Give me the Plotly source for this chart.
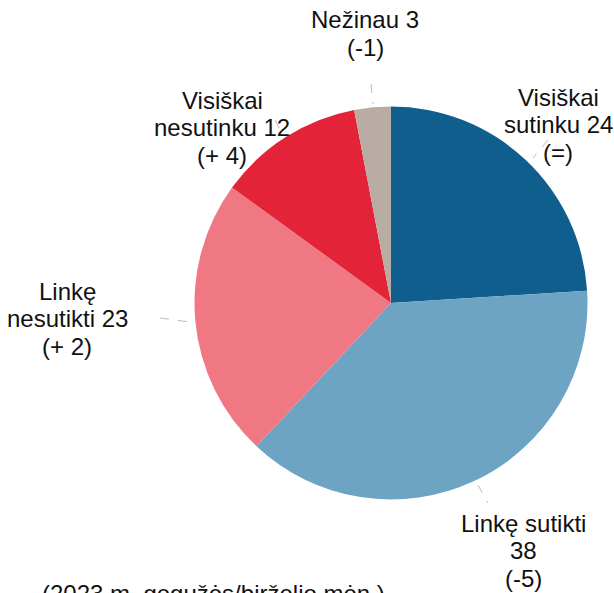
import plotly.graph_objects as go

categories = ["Visiškai sutinku", "Linkę sutikti", "Linkę nesutikti", "Visiškai nesutinku", "Nežinau"]
values = [24, 38, 23, 12, 3]
changes = ["(=)", "(-5)", "(+ 2)", "(+ 4)", "(-1)"]
colors = ["#0F5E8E", "#6DA3C3", "#EF7882", "#E32337", "#B8ACA5"]

W, H = 614, 593

def px(x):
    return x / W

def py(y):
    return 1 - y / H

cx, cy, r = 391, 303, 196.5

fig = go.Figure(go.Pie(
    labels=categories, values=values, sort=False, direction="clockwise", rotation=0,
    marker=dict(colors=colors, line=dict(width=0)),
    textinfo="none", hoverinfo="label+value", showlegend=False,
    domain=dict(x=[px(cx - r), px(cx + r)], y=[py(cy + r), py(cy - r)]),
))

label_lines = [
    ["Visiškai", f"sutinku {values[0]}", changes[0]],
    ["Linkę sutikti", f"{values[1]}", changes[1]],
    ["Linkę", f"nesutikti {values[2]}", changes[2]],
    ["Visiškai", f"nesutinku {values[3]}", changes[3]],
    [f"Nežinau {values[4]}", changes[4]],
]
# (center x, center y of first line)
label_pos = [(558, 97), (523, 523), (67, 291), (222, 100), (365, 20)]
LINE = 27.7

FONT = dict(family="Liberation Sans, Arial", size=24, color="#111111")

for lines, (x, y) in zip(label_lines, label_pos):
    for i, t in enumerate(lines):
        fig.add_annotation(x=px(x), y=py(y + i * LINE), xref="paper", yref="paper", text=t,
                           showarrow=False, xanchor="center", yanchor="middle", font=FONT)

leaders = [((548, 140), (533, 158)), ((478, 485), (488, 503)), ((160, 318), (190, 322)),
           ((275, 120), (282, 133)), ((371, 84), (373, 104))]
for (x0, y0), (x1, y1) in leaders:
    fig.add_shape(type="line", xref="paper", yref="paper", x0=px(x0), y0=py(y0), x1=px(x1), y1=py(y1),
                  line=dict(color="#BBBBBB", width=1, dash="dash"))

fig.add_annotation(x=px(40), y=py(593.5), xref="paper", yref="paper",
                   text="(2023 m. gegužės/birželio mėn.)", showarrow=False,
                   xanchor="left", yanchor="middle", font=FONT)

fig.update_layout(width=W, height=H, margin=dict(l=0, r=0, t=0, b=0),
                  paper_bgcolor="white", plot_bgcolor="white")

fig.write_html(
    "out.html",
    config={"displayModeBar": False},
    post_script="document.body.style.margin='0';document.documentElement.style.overflow='hidden';document.body.style.overflow='hidden';",
)
